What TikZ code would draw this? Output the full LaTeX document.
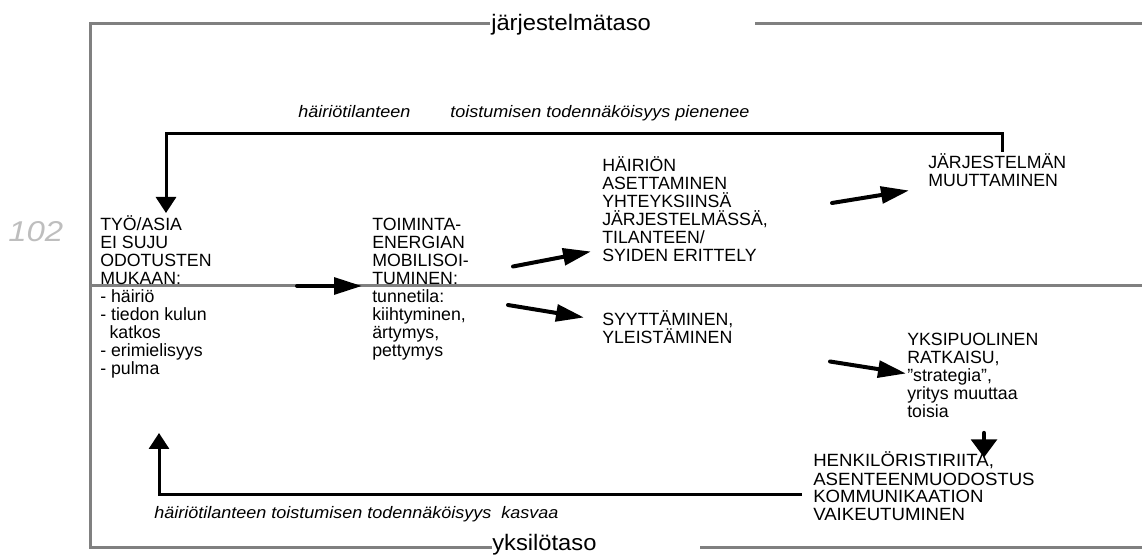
\documentclass[tikz,border=0pt]{standalone}
\usepackage{fontspec}
\setmainfont{Liberation Sans}
\newfontfamily\itfont{Liberation Sans}[FakeStretch=1.08]
\newfontfamily\lvlfont{Liberation Sans}[FakeStretch=1.06]
\newfontfamily\pgfont{Liberation Sans}[FakeStretch=1.15]
\newfontfamily\widefont{Liberation Sans}[FakeStretch=1.05]
\usetikzlibrary{arrows.meta}
\definecolor{framegray}{RGB}{128,128,128}
\definecolor{pagegray}{RGB}{190,190,190}
\newcommand\rw[1]{\hbox{#1}}
\newcommand\blk[1]{\vtop{\baselineskip=13.5pt\relax #1}}
\begin{document}
\begin{tikzpicture}[x=0.75pt,y=-0.75pt,
  txt/.style={inner sep=0pt, anchor=base west, font=\fontsize{13.3pt}{13.5pt}\selectfont},
  itlabel/.style={inner sep=0pt, anchor=base west, font=\itfont\itshape\fontsize{12.5pt}{13.5pt}\selectfont},
  lvl/.style={inner sep=0pt, anchor=base west, font=\lvlfont\fontsize{16.8pt}{18pt}\selectfont},
  frame/.style={draw=framegray, line width=2.25pt},
  flow/.style={draw=black, line width=3pt, line cap=round, -{Triangle[length=21pt,width=12.5pt]}},
  loopline/.style={draw=black, line width=2.25pt, -{Triangle[length=12pt,width=15pt]}},
  downarr/.style={draw=black, line width=3.2pt, line cap=round, -{Triangle[length=13.5pt,width=19pt]}}]
\useasboundingbox (0,0) rectangle (1142,555);

% frame
\draw[frame] (490,24) -- (90,24) -- (90,547) -- (492,547);
\draw[frame] (755,24) -- (1145,24);
\draw[frame] (90,286) -- (1145,286);
\draw[frame] (700,547) -- (1145,547);
\node[lvl] (jt) at (491,30.5) {järjestelmätaso};
\node[lvl] (yt) at (492,550) {yksilötaso};

% page number
\node[inner sep=0pt, anchor=base west, text=pagegray, font=\pgfont\itshape\fontsize{21.5pt}{24pt}\selectfont] (pg) at (8,241.5) {102};

% text blocks
\node[txt] (tyo) at (100,231) {\blk{\rw{TYÖ/ASIA}\rw{EI SUJU}\rw{ODOTUSTEN}\rw{MUKAAN:}\rw{- häiriö}\rw{- tiedon kulun}\rw{\hspace*{7pt}katkos}\rw{- erimielisyys}\rw{- pulma}}};
\node[txt] (toim) at (372,231) {\blk{\rw{TOIMINTA-}\rw{ENERGIAN}\rw{MOBILISOI-}\rw{TUMINEN:}\rw{tunnetila:}\rw{kiihtyminen,}\rw{ärtymys,}\rw{pettymys}}};
\node[txt] (hair) at (602,172) {\blk{\rw{HÄIRIÖN}\rw{ASETTAMINEN}\rw{YHTEYKSIINSÄ}\rw{JÄRJESTELMÄSSÄ,}\rw{TILANTEEN/}\rw{SYIDEN ERITTELY}}};
\node[txt] (syyt) at (602,325.5) {\blk{\rw{SYYTTÄMINEN,}\rw{YLEISTÄMINEN}}};
\node[txt] (jarj) at (928,169) {\blk{\rw{JÄRJESTELMÄN}\rw{MUUTTAMINEN}}};
\node[txt] (yksi) at (907,345.5) {\blk{\rw{YKSIPUOLINEN}\rw{RATKAISU,}\rw{”strategia”,}\rw{yritys muuttaa}\rw{toisia}}};
\node[txt, font=\widefont\fontsize{13.3pt}{13.5pt}\selectfont] (henk) at (813,467) {\blk{\rw{HENKILÖRISTIRIITA,}\rw{ASENTEENMUODOSTUS}\rw{KOMMUNIKAATION}\rw{VAIKEUTUMINEN}}};

% italic labels
\node[itlabel] (toplab) at (298,118) {häiriötilanteen\hspace{30pt}toistumisen todennäköisyys pienenee};
\node[itlabel] (botlab) at (154,518) {häiriötilanteen toistumisen todennäköisyys\ \ kasvaa};

% arrow end points
\coordinate (a1s) at (297,286);   \coordinate (a1e) at (362,286);
\coordinate (a2s) at (513,266.5); \coordinate (a2e) at (591,251.5);
\coordinate (a3s) at (508,305);   \coordinate (a3e) at (584,317.5);
\coordinate (a4s) at (832,203);   \coordinate (a4e) at (909,190.5);
\coordinate (a5s) at (830,361.5); \coordinate (a5e) at (906,373.5);
\coordinate (a6s) at (984,433);   \coordinate (a6e) at (984,457.5);
\coordinate (l1s) at (1002,152);  \coordinate (l1c) at (1002,134);
\coordinate (l1e) at (166,213);
\coordinate (l2s) at (802,495);   \coordinate (l2e) at (159,433);

\draw[flow] (a1s) -- (a1e);
\draw[flow] (a2s) -- (a2e);
\draw[flow] (a3s) -- (a3e);
\draw[flow] (a4s) -- (a4e);
\draw[flow] (a5s) -- (a5e);
\draw[downarr] (a6s) -- (a6e);
\draw[loopline] (l1s) -- (l1c) -| (l1e);
\draw[loopline] (l2s) -| (l2e);
\end{tikzpicture}
\end{document}
